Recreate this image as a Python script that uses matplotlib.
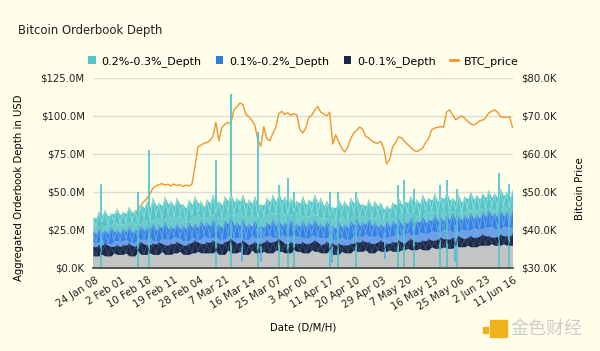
import datetime as dt
import matplotlib
matplotlib.use("Agg")
import matplotlib.pyplot as plt
from matplotlib.patches import Patch, Rectangle
from matplotlib.lines import Line2D
import numpy as np

# daily readings from 23 Jan to 11 Jun 2024, depth in $M, price in $K
depth_02_03 = (
    [33, 27, 37, 30, 38, 28, 36, 31, 39]
    + [29, 37, 30, 40, 31, 38, 29, 42, 33, 44, 31, 46, 34, 43, 32, 47, 35, 44, 33, 46,
       36, 42, 31, 45, 34, 47, 36, 44, 33]
    + [45, 35, 48, 36, 44, 33, 47, 37, 49, 35, 46, 38, 48, 34, 45, 36, 47, 33, 42, 35,
       46, 37, 48, 36, 49, 38, 47, 35, 46, 37, 44]
    + [36, 47, 34, 45, 37, 48, 35, 46, 33, 44, 34, 40, 32, 45, 35, 44, 32, 46, 36, 47,
       34, 42, 35, 45, 33, 44, 36, 43, 32, 41]
    + [33, 43, 35, 46, 36, 44, 37, 47, 36, 45, 34, 48, 37, 46, 38, 49, 36, 47, 39, 50,
       37, 46, 38, 48, 36, 47, 39, 50, 38, 48, 40]
    + [49, 39, 51, 40, 49, 38, 52, 41, 50, 39, 51]
)
depth_01_02 = (
    [24, 17, 26, 19, 25, 16, 27, 18, 25]
    + [18, 26, 19, 27, 17, 25, 20, 28, 19, 27, 21, 29, 18, 28, 20, 30, 19, 27, 21, 29,
       20, 28, 18, 30, 21, 29, 19, 31, 22]
    + [30, 20, 32, 21, 29, 19, 31, 22, 33, 20, 30, 21, 32, 19, 29, 22, 31, 20, 28, 21,
       30, 22, 32, 20, 31, 23, 30, 21, 32, 22, 29]
    + [21, 31, 20, 30, 22, 32, 21, 29, 20, 31, 22, 28, 19, 30, 21, 29, 19, 31, 22, 32,
       21, 30, 23, 32, 21, 30, 22, 29, 20, 31]
    + [21, 31, 23, 32, 22, 30, 24, 33, 22, 31, 24, 34, 23, 32, 25, 35, 24, 33, 26, 34,
       25, 36, 24, 34, 26, 35, 25, 36, 27, 35, 26]
    + [37, 27, 38, 28, 36, 26, 38, 28, 37, 27, 38]
)
depth_00_01 = (
    [14, 8, 15, 9, 16, 8, 14, 10, 15]
    + [9, 15, 10, 16, 8, 14, 11, 17, 9, 15, 10, 16, 9, 17, 11, 15, 9, 16, 10, 17,
       11, 15, 9, 16, 10, 18, 11, 16, 10]
    + [17, 10, 18, 11, 16, 9, 17, 12, 19, 10, 16, 11, 18, 9, 15, 12, 17, 10, 16, 11,
       18, 10, 17, 12, 19, 11, 16, 10, 17, 12, 16]
    + [11, 17, 10, 16, 12, 18, 11, 15, 10, 17, 12, 16, 9, 16, 11, 15, 10, 16, 12, 17,
       11, 18, 12, 17, 10, 16, 12, 18, 11, 16]
    + [12, 17, 11, 18, 12, 16, 13, 19, 12, 17, 13, 18, 12, 19, 14, 18, 13, 20, 14, 19,
       13, 20, 15, 21, 14, 19, 15, 21, 14, 20, 15]
    + [22, 15, 21, 16, 20, 15, 22, 16, 21, 15, 22]
)
btc_price = (
    [40.0, 40.2, 41.5, 42.0, 42.3, 42.6, 43.0, 43.2, 42.8]
    + [43.0, 42.8, 43.1, 42.7, 43.0, 43.8, 45.5, 46.5, 47.5, 48.3, 49.5, 51.0, 51.6, 51.9,
       52.2, 51.8, 52.0, 51.6, 52.1, 51.7, 51.9, 51.4, 51.8, 51.6, 52.0, 56.5, 61.8, 62.3, 62.8]
    + [63.0, 63.5, 64.5, 68.3, 63.5, 66.9, 67.8, 68.3, 68.0, 71.5, 72.4, 73.4, 73.0, 70.5,
       69.8, 68.9, 67.6, 63.8, 62.0, 67.2, 64.0, 63.5, 65.3, 67.0, 70.6, 71.2, 70.4, 70.8,
       70.2, 70.6, 70.3]
    + [66.5, 65.5, 66.8, 69.5, 70.2, 71.5, 72.5, 71.0, 70.5, 70.0, 71.0, 62.6, 65.0, 63.2,
       61.5, 60.5, 61.8, 64.0, 65.5, 66.2, 67.1, 66.5, 64.6, 64.2, 63.5, 63.0, 62.8, 63.3,
       61.5, 57.4]
    + [58.5, 61.9, 63.0, 64.5, 64.2, 63.3, 62.5, 61.8, 61.0, 60.6, 61.0, 61.5, 63.0, 64.0,
       66.3, 66.8, 67.0, 67.2, 67.0, 71.0, 71.6, 70.3, 69.0, 69.5, 70.0, 69.4, 68.6, 68.0,
       67.6, 68.0, 68.7]
    + [68.9, 69.5, 70.7, 71.2, 71.6, 71.0, 69.8, 69.6, 69.7, 69.8, 67.0]
)

# single-hour spikes of the 0.2%-0.3% depth
spike_times = ["2024-01-26 07:00", "2024-02-07 16:00", "2024-02-11 08:00", "2024-03-04 10:00",
               "2024-03-09 11:00", "2024-03-18 13:00", "2024-03-25 14:00", "2024-03-28 16:00",
               "2024-03-30 12:00", "2024-04-11 12:00", "2024-04-14 08:00", "2024-04-20 10:00",
               "2024-05-04 10:00", "2024-05-06 04:00", "2024-05-09 12:00", "2024-05-18 06:00",
               "2024-05-20 14:00", "2024-05-24 00:00", "2024-06-07 02:00", "2024-06-10 08:00"]
spike_values = [55, 50, 77.6, 71, 114.5, 89.7, 54.6, 59, 50, 50, 50, 50,
                54.6, 58, 52, 54.6, 58, 52, 62.5, 55]
# hours where every depth dropped
dip_times = ["2024-03-13 06:00", "2024-03-19 12:00", "2024-04-12 10:00",
             "2024-04-29 20:00", "2024-05-23 04:00"]
dip_values = [4, 4, 3, 6, 4]

tick_labels = ["24 Jan 08", "2 Feb 01", "10 Feb 18", "19 Feb 11", "28 Feb 04", "7 Mar 21",
               "16 Mar 14", "25 Mar 07", "3 Apr 00", "11 Apr 17", "20 Apr 10", "29 Apr 03",
               "7 May 20", "16 May 13", "25 May 06", "2 Jun 23", "11 Jun 16"]
depth_ticks = [0, 25, 50, 75, 100, 125]
depth_tick_labels = ["$0.0K", "$25.0M", "$50.0M", "$75.0M", "$100.0M", "$125.0M"]
price_ticks = [30, 40, 50, 60, 70, 80]
price_tick_labels = ["$30.0K", "$40.0K", "$50.0K", "$60.0K", "$70.0K", "$80.0K"]

bg = "#fffeea"
c_teal = "#55c6c8"
c_blue = "#2f7fe3"
c_navy = "#1a2948"
c_orange = "#f0952e"

start = dt.datetime(2024, 1, 23, 12)
dates = [start + dt.timedelta(days=i) for i in range(len(btc_price))]
ticks = [dt.datetime.strptime("2024 " + t, "%Y %d %b %H") for t in tick_labels]
spike_dt = [dt.datetime.strptime(s, "%Y-%m-%d %H:%M") for s in spike_times]
dip_dt = [dt.datetime.strptime(s, "%Y-%m-%d %H:%M") for s in dip_times]


# hourly values swing a lot, so show each series as a band around the daily readings
def band(vals, frac=0.7):
    v = np.array(vals, dtype=float)
    left = np.r_[v[0], v[:-1]]
    right = np.r_[v[1:], v[-1]]
    lo = np.minimum(np.minimum(left, v), right)
    hi = np.maximum(np.maximum(left, v), right)
    return lo, v + frac * (hi - v)


fig = plt.figure(figsize=(6.0, 3.51), dpi=100, facecolor=bg)
ax = fig.add_axes([0.155, 0.2365, 0.700, 0.5415])
ax2 = ax.twinx()
ax.set_zorder(ax2.get_zorder() + 1)
ax.patch.set_visible(False)
ax2.set_facecolor(bg)

# price sits behind the depth series
ax2.plot(dates, btc_price, color=c_orange, lw=1.0)
ax2.scatter([dates[3]], [btc_price[3]], s=30, color="#e2432c", zorder=5)
ax2.set_ylim(30, 80)
ax2.set_yticks(price_ticks)
ax2.set_yticklabels(price_tick_labels)
ax2.grid(axis="y", color="#dcdcd4", lw=1)
ax2.set_axisbelow(True)

t_lo, t_top = band(depth_02_03, 0.6)
b_lo, b_top = band(depth_01_02, 0.6)
n_lo, n_top = band(depth_00_01, 0.85)
zero = np.zeros(len(dates))

ax.fill_between(dates, zero, t_lo, color="#6ccccc", lw=0)
ax.vlines(spike_dt, 0, spike_values, color=c_teal, lw=1.3)
ax.fill_between(dates, t_lo, t_top, color=c_teal, lw=0)
ax.plot(dates, depth_02_03, color="#8fdad8", lw=0.7)

ax.fill_between(dates, zero, b_lo, color="#6f9fe8", lw=0)
ax.fill_between(dates, b_lo, b_top, color="#3483e4", lw=0)
ax.plot(dates, depth_01_02, color="#6aa3ea", lw=0.7)
num = [d.timestamp() for d in dates]
dip_top = np.interp([d.timestamp() for d in dip_dt], num, depth_01_02)
ax.vlines(dip_dt, dip_values, dip_top, color="#5fb2e6", lw=1.3)

ax.fill_between(dates, zero, n_lo, color="#c2c5c1", lw=0)
ax.fill_between(dates, n_lo, n_top, color=c_navy, lw=0)
ax.plot(dates, depth_00_01, color="#3a4866", lw=0.7)

ax.set_ylim(0, 125)
ax.set_yticks(depth_ticks)
ax.set_yticklabels(depth_tick_labels)
ax.set_xlim(dates[0], ticks[-1])
ax.set_xticks(ticks)
ax.set_xticklabels(tick_labels, rotation=32, ha="right", rotation_mode="anchor")

for a in (ax, ax2):
    for s in a.spines.values():
        s.set_visible(False)
    a.tick_params(length=0, labelsize=7.3, colors="#222222")
ax.spines["bottom"].set_visible(True)
ax.spines["bottom"].set_color("#444444")
ax.spines["bottom"].set_linewidth(1.2)
ax.tick_params(axis="x", pad=5)
ax.tick_params(axis="y", pad=6)
ax2.tick_params(axis="y", pad=6)

ax.set_xlabel("Date (D/M/H)", fontsize=7.3, labelpad=8)
ax.set_ylabel("Aggregated Orderbook Depth in USD", fontsize=7.3)
ax.yaxis.set_label_coords(-0.164, 0.42)
ax2.set_ylabel("Bitcoin Price", fontsize=7.3)
ax2.yaxis.set_label_coords(1.148, 0.42)

fig.text(0.03, 0.914, "Bitcoin Orderbook Depth", fontsize=8.4, va="center", color="#222222")

handles = [Patch(facecolor=c_teal, lw=0), Patch(facecolor=c_blue, lw=0),
           Patch(facecolor=c_navy, lw=0), Line2D([], [], color=c_orange, lw=2)]
labels = ["0.2%-0.3%_Depth", "0.1%-0.2%_Depth", "0-0.1%_Depth", "BTC_price"]
fig.legend(handles, labels, loc="center", bbox_to_anchor=(0.505, 0.825), ncol=4,
           frameon=False, fontsize=8, handlelength=0.7, handleheight=0.7,
           handletextpad=0.5, columnspacing=1.3)

# watermark
fig.patches.append(Rectangle((490 / 600, 1 - 337 / 351), 17 / 600, 17 / 351,
                             transform=fig.transFigure, color="#f0b21a"))
fig.patches.append(Rectangle((483 / 600, 1 - 333 / 351), 5 / 600, 6 / 351,
                             transform=fig.transFigure, color="#f0b21a"))
fig.text(0.85, 0.062, "金色财经", fontsize=13, color="#cdcdcd", va="center",
         family=["Noto Sans CJK SC", "DejaVu Sans"])

fig.savefig("out.png", dpi=100, facecolor=bg)
